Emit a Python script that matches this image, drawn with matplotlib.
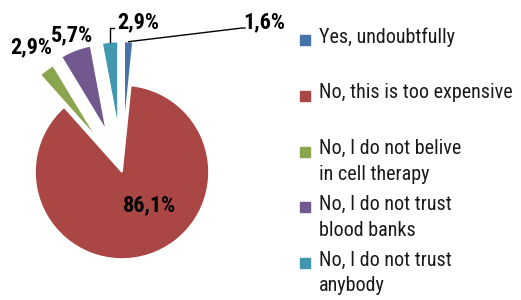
import numpy as np
import matplotlib
matplotlib.use("Agg")
import matplotlib.pyplot as plt
from matplotlib.patches import Rectangle

labels = ["Yes, undoubtfully", "No, this is too expensive",
          "No, I do not belive\nin cell therapy", "No, I do not trust\nblood banks",
          "No, I do not trust\nanybody"]
values = [1.6, 86.1, 2.9, 5.7, 2.9]
colors = ["#4572A7", "#AA4643", "#89A54E", "#71588F", "#4198AF"]
explode = [0.5, 0.0, 0.46, 0.5, 0.5]

plt.rcParams['font.family'] = ['Roboto Condensed', 'Archivo Narrow', 'DejaVu Sans']

W, H = 521, 300
R = 87.0          # pie radius in pixels
cx, cy = 122, 172  # pie centre (pixels from top-left)

def px(x, y):
    # pixel position -> data coords
    return (x - cx) / R, (cy - y) / R

fig = plt.figure(figsize=(W / 100, H / 100), dpi=100)
ax = fig.add_axes([0, 0, 1, 1])
wedges, _ = ax.pie(values, colors=colors, explode=explode, startangle=90,
                   counterclock=False, radius=1,
                   wedgeprops=dict(edgecolor="white", linewidth=1.2))
ax.set_xlim(-cx / R, (W - cx) / R)
ax.set_ylim(-(H - cy) / R, cy / R)
ax.set_aspect("equal")
ax.axis("off")

# percentage labels
lab_pos = [(264, 22), (150, 205), (31, 47), (72, 35), (138, 22)]
for v, p in zip(values, lab_pos):
    ax.text(*px(*p), ("%.1f%%" % v).replace(".", ","), ha="center", va="center",
            fontsize=16, fontweight="bold", color="black")

# leader lines for the two thin slices
def outer_mid(w):
    a = np.deg2rad((w.theta1 + w.theta2) / 2)
    return w.center[0] + w.r * np.cos(a), w.center[1] + w.r * np.sin(a)

x0, y0 = outer_mid(wedges[4])
x1, y1 = px(106, 28)
x2, _ = px(114, 28)
ax.plot([x0, x0, x2], [y0, y1, y1], color="black", lw=1)

x0, y0 = outer_mid(wedges[0])
x1, y1 = px(242, 28)
x2, _ = px(245, 28)
ax.plot([x0, x1, x2], [y0, y1, y1], color="black", lw=1)

# legend
for i, (lab, c) in enumerate(zip(labels, colors)):
    yy = 40 + i * 55.8
    fig.add_artist(Rectangle(((300) / W, 1 - (yy + 5) / H), 10 / W, 10 / H,
                             transform=fig.transFigure, color=c))
    fig.text(319 / W, 1 - (yy - 12.5) / H, lab, ha="left", va="top",
             fontsize=14.5, linespacing=1.45, color="#1a1a1a")

fig.savefig("out.png", dpi=100)
